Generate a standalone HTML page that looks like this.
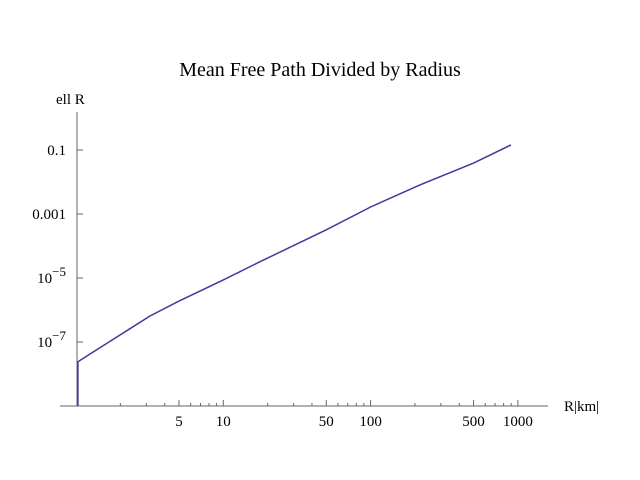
<!DOCTYPE html>
<html><head><meta charset="utf-8"><style>body{margin:0;background:#fff}svg{display:block}text{font-family:"Liberation Serif",serif;fill:#000}</style></head>
<body>
<svg id="c" width="640" height="480">
<text x="320" y="76" font-size="20" text-anchor="middle">Mean Free Path Divided by Radius</text>
<text x="56" y="104" font-size="15">ell R</text>
<text x="564" y="411" font-size="15">R|km|</text>
<g id="ax"></g>
<path id="line" fill="none" stroke="#3b3b9b" stroke-width="1.5"></path>
</svg>
<script>
const rValues=[1.03,1.03,1.24,1.99,3.18,5,10,17.7,50,100,216,500,898];
const ellValues=[1e-9,2.4e-8,4.2e-8,1.66e-7,6.5e-7,1.9e-6,8.7e-6,3.2e-5,3.2e-4,1.65e-3,8.1e-3,0.039,0.144];
const xTicks=[5,10,50,100,500,1000];
const xTickLabels=["5","10","50","100","500","1000"];
const yTicks=[0.1,0.001,1e-5,1e-7];
const yTickLabels=[["0.1",""],["0.001",""],["10","\u22125"],["10","\u22127"]];
const NS="http://www.w3.org/2000/svg";
const X=v=>76+147.3*Math.log10(v);
const Y=v=>150-32*(Math.log10(v)+1);
const ax=document.getElementById('ax');
function ln(x1,y1,x2,y2,n){const l=document.createElementNS(NS,'line');l.setAttribute('x1',x1);l.setAttribute('y1',y1);l.setAttribute('x2',x2);l.setAttribute('y2',y2);l.setAttribute('stroke','#666');l.setAttribute('stroke-width','1');


ax.appendChild(l);}
ln(60,406,548,406,'x-axis');
ln(77,112,77,406,'y-axis');
for(let d=1;d<=1000;d*=10)for(let k=2;k<=9;k++){const v=d*k;if(v>1000)break;if(xTicks.includes(v))continue;const x=X(v);ln(x,406,x,403,'x-minor-tick');}
xTicks.forEach((v,i)=>{const x=X(v);ln(x,406,x,400,'x-tick');const t=document.createElementNS(NS,'text');t.setAttribute('x',x);t.setAttribute('y',426);t.setAttribute('font-size','15');t.setAttribute('text-anchor','middle');t.textContent=xTickLabels[i];


ax.appendChild(t);});
yTicks.forEach((v,i)=>{const y=Y(v);ln(77,y,83,y,'y-tick');const t=document.createElementNS(NS,'text');t.setAttribute('x',66);t.setAttribute('y',y+5);t.setAttribute('font-size','15');t.setAttribute('text-anchor','end');


const a=document.createElementNS(NS,'tspan');a.textContent=yTickLabels[i][0];t.appendChild(a);
if(yTickLabels[i][1]){const b=document.createElementNS(NS,'tspan');b.setAttribute('dy','-7');b.setAttribute('font-size','13');b.textContent=yTickLabels[i][1];t.appendChild(b);}
ax.appendChild(t);});
document.getElementById('line').setAttribute('d',rValues.map((r,i)=>(i?'L':'M')+X(r).toFixed(1)+','+Y(ellValues[i]).toFixed(1)).join(''));
</script>
</body></html>
